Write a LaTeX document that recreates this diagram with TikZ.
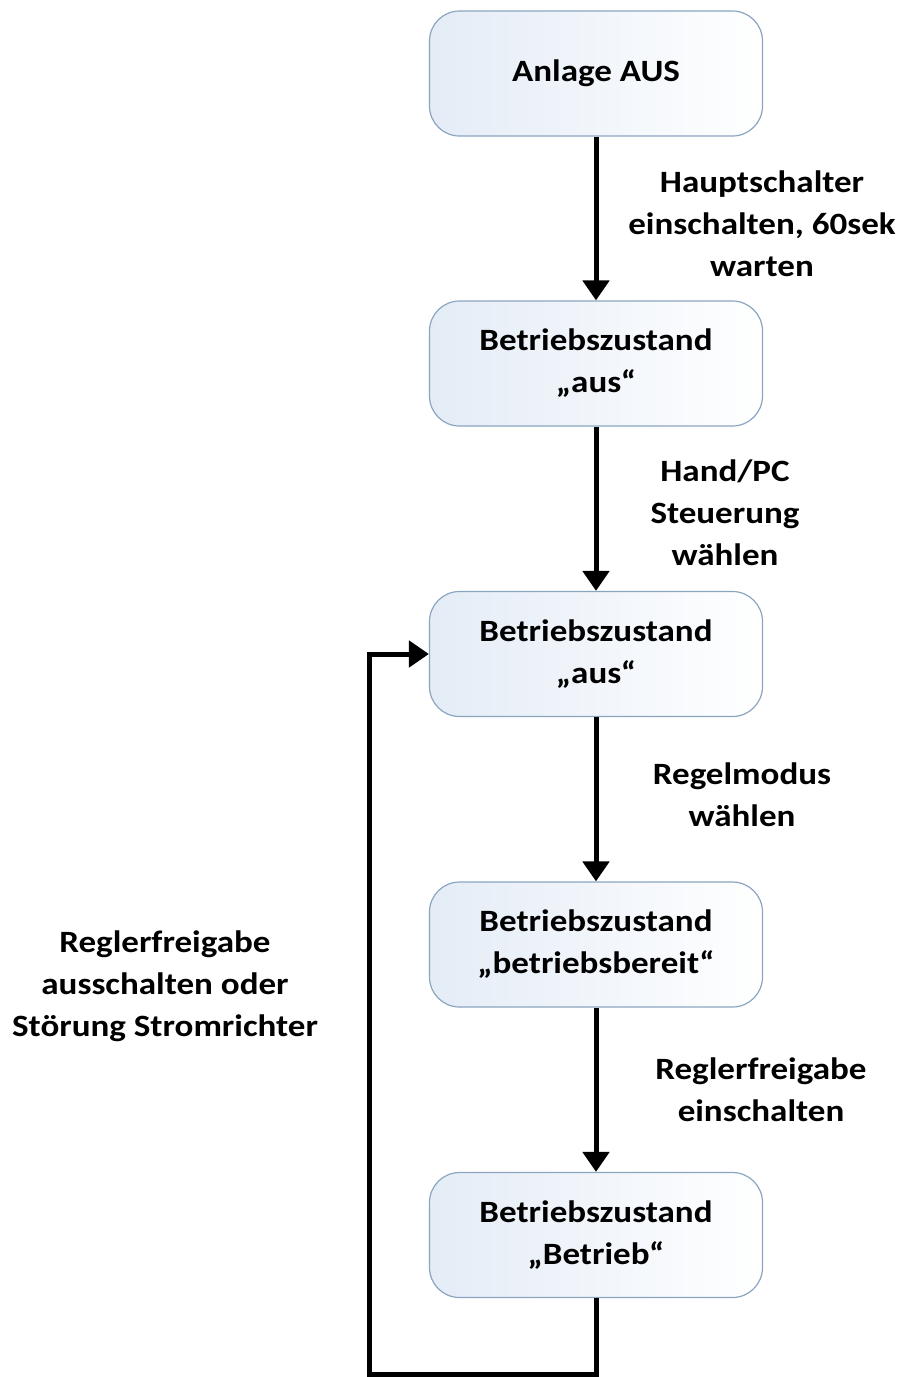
\documentclass[tikz,border=0pt]{standalone}
\usepackage{fontspec}
\setmainfont{Carlito}[FakeStretch=1.13]
\usetikzlibrary{arrows.meta}
\definecolor{boxline}{HTML}{8BA5C1}
\definecolor{boxfillA}{HTML}{E4ECF6}
\begin{document}
\begin{tikzpicture}[x=1pt,y=-1pt,
  state/.style={draw=boxline, line width=1.2pt, rounded corners=30pt,
    minimum width=333pt, minimum height=125pt, left color=boxfillA, right color=white,
    font=\bfseries\fontsize{31}{42}\selectfont, align=center, inner sep=0pt},
  lbl/.style={font=\bfseries\fontsize{31}{42}\selectfont, align=center, inner sep=0pt},
  flow/.style={line width=5pt, line join=miter, -{Triangle[width=26pt,length=20pt]}}]
\useasboundingbox (0,0) rectangle (903,1377);

\node[state] (b1) at (596,73.5) {Anlage AUS\rule[-3pt]{0pt}{1pt}};
\node[state] (b2) at (596,363.5) {Betriebszustand\\„aus“};
\node[state] (b3) at (596,654) {Betriebszustand\\„aus“};
\node[state] (b4) at (596,944.5) {Betriebszustand\\„betriebsbereit“};
\node[state] (b5) at (596,1235) {Betriebszustand\\„Betrieb“};

\node[lbl] (l1) at (762,223.5) {Hauptschalter\\einschalten, 60sek\\warten};
\node[lbl] (l2) at (725,513) {Hand/PC\\Steuerung\\wählen};
\node[lbl] (l3) at (742,795) {Regelmodus\\wählen};
\node[lbl] (l4) at (761,1090) {Reglerfreigabe\\einschalten};
\node[lbl] (l5) at (165,986) {Reglerfreigabe\\ausschalten oder\\Störung Stromrichter};

\draw[flow] (b1) -- (b2);
\draw[flow] (b2) -- (b3);
\draw[flow] (b3) -- (b4);
\draw[flow] (b4) -- (b5);

\coordinate (loopA) at (596,1374.5);
\coordinate (loopB) at (369,1374.5);
\draw[flow] (b5.south) -- (loopA) -- (loopB) |- (b3.west);
\end{tikzpicture}
\end{document}
